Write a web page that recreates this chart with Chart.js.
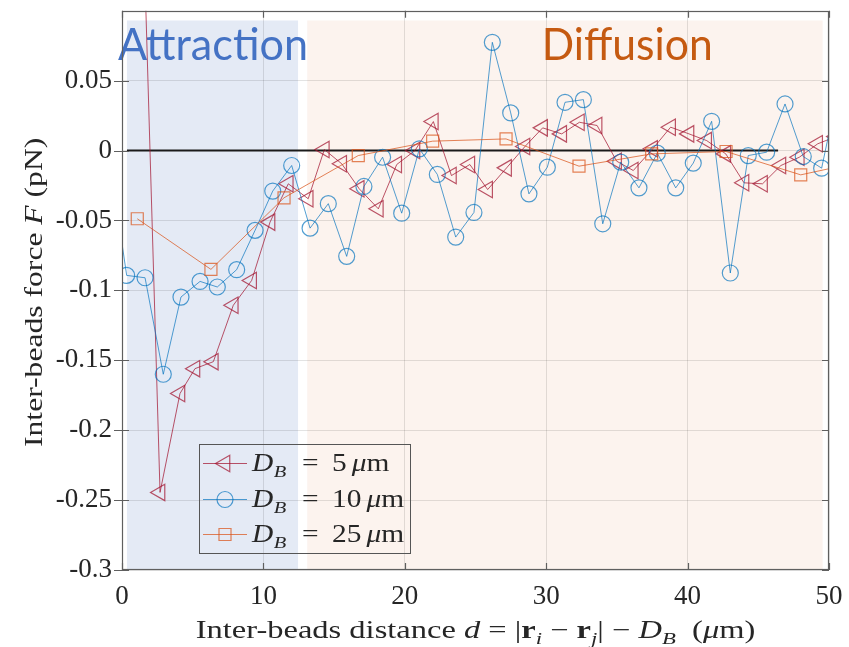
<!DOCTYPE html>
<html><head><meta charset="utf-8">
<script src="https://cdn.jsdelivr.net/npm/chart.js@4.4.1/dist/chart.umd.min.js"></script>
<style>html,body{margin:0;padding:0;background:#fff;}#wrap{width:849px;height:647px;}</style>
</head><body><div id="wrap"><canvas id="c" width="849" height="647"></canvas></div>
<script>
// ---------------- data ----------------
const seriesNames = ['5', '10', '25'];   // D_B values (µm)
const db5X = [1.4, 2.69, 4.10, 5.16, 6.46, 7.87, 9.17, 10.47, 11.76, 13.17, 14.31, 15.54, 16.78, 18.13, 19.43, 20.72, 22.02, 23.3, 24.6, 25.86, 27.2, 28.5, 29.75, 31.1, 32.35, 33.6, 34.98, 36.16, 37.53, 38.8, 40.1, 41.35, 42.7, 43.99, 45.3, 46.6, 47.9, 49.2, 50.5];
const db5Y = [0.2, -0.2445, -0.1738, -0.156, -0.151, -0.1107, -0.0929, -0.0512, -0.0238, -0.0345, 0.0007, -0.0095, -0.0274, -0.0417, -0.01, 0.0, 0.0207, -0.0179, -0.01, -0.0279, -0.0124, 0.0029, 0.0162, 0.0119, 0.0202, 0.0179, -0.0076, -0.0143, 0.0012, 0.0167, 0.0119, 0.0071, -0.0024, -0.0231, -0.0238, -0.0107, -0.0048, 0.0048, 0.01];
const db10X = [-0.96, 0.33, 1.63, 2.92, 4.17, 5.52, 6.74, 8.11, 9.41, 10.66, 12.0, 13.3, 14.59, 15.89, 17.11, 18.43, 19.78, 21.03, 22.3, 23.6, 24.89, 26.19, 27.49, 28.78, 30.08, 31.33, 32.63, 34.0, 35.27, 36.56, 37.86, 39.16, 40.4, 41.7, 43.02, 44.29, 45.59, 46.89, 48.18, 49.48, 50.78];
const db10Y = [0.0, -0.0893, -0.091, -0.16, -0.1048, -0.0936, -0.0976, -0.0852, -0.0571, -0.029, -0.0107, -0.0555, -0.038, -0.0757, -0.0257, -0.0048, -0.0448, 0.0012, -0.0171, -0.0619, -0.0443, 0.0774, 0.0269, -0.031, -0.0119, 0.0345, 0.0364, -0.0524, -0.0083, -0.0267, -0.0019, -0.0267, -0.009, 0.0209, -0.0876, -0.0036, -0.0012, 0.0333, -0.0043, -0.0126, 0.05];
const db25X = [1.08, 6.29, 11.46, 16.71, 21.97, 27.16, 32.32, 37.46, 42.72, 48.0, 53.2];
const db25Y = [-0.0488, -0.085, -0.0338, -0.0036, 0.0067, 0.0083, -0.0112, -0.0024, -0.0007, -0.0174, -0.006];
const zeroLineX = [0.35, 46.4];
const zeroLineY = [0, 0];
const xTicks = [0, 10, 20, 30, 40, 50];
const xTickLabels = ['0', '10', '20', '30', '40', '50'];
const yTicks = [-0.3, -0.25, -0.2, -0.15, -0.1, -0.05, 0, 0.05];
const yTickLabels = ['-0.3', '-0.25', '-0.2', '-0.15', '-0.1', '-0.05', '0', '0.05'];
const regionNames = ['Attraction', 'Diffusion'];
const regionFrom = [0.35, 13.1];
const regionTo = [12.45, 49.55];
const regionTop = 0.093;

// ---------------- styles ----------------
const C5 = 'rgba(162,20,47,0.72)';
const C10 = 'rgba(0,114,189,0.68)';
const C25 = 'rgba(217,83,25,0.72)';
const TEXT = '#262626';
const AXIS = '#5f5f5f';
const SERIF = '"Liberation Serif", "Times New Roman", serif';
const regionFill = ['#e4eaf5', '#fcf3ee'];
const regionText = ['#4472c4', '#c55a11'];

const pts = (xs, ys) => xs.map((x, i) => ({x: x, y: ys[i]}));

function segFont(st, size) {
  const it = (st === 'i' || st === 's');
  const bd = (st === 'b');
  const sz = st === 's' ? size * 0.7 : size;
  return (it ? 'italic ' : '') + (bd ? 'bold ' : '') + sz.toFixed(1) + 'px ' + SERIF;
}
function drawRich(ctx, segs, x, y, size, align, sx) {
  ctx.save();
  ctx.translate(x, y);
  ctx.scale(sx, 1);
  ctx.textBaseline = 'alphabetic';
  ctx.textAlign = 'left';
  let w = 0;
  for (const [t, st] of segs) { ctx.font = segFont(st, size); w += ctx.measureText(t).width; }
  let cx = align === 'center' ? -w / 2 : 0;
  ctx.fillStyle = TEXT;
  for (const [t, st] of segs) {
    ctx.font = segFont(st, size);
    ctx.fillText(t, cx, st === 's' ? size * 0.24 : 0);
    cx += ctx.measureText(t).width;
  }
  ctx.restore();
}
function drawPiece(ctx, t, st, x, y, size, sx) {
  ctx.save();
  ctx.translate(x, y);
  ctx.scale(sx, 1);
  ctx.font = segFont(st, size);
  ctx.fillStyle = TEXT;
  ctx.textBaseline = 'alphabetic';
  ctx.textAlign = 'left';
  ctx.fillText(t, 0, st === 's' ? size * 0.24 : 0);
  const w = ctx.measureText(t).width * sx;
  ctx.restore();
  return x + w;
}
function drawMarker(ctx, kind, x, y, r, color) {
  ctx.save();
  ctx.strokeStyle = color; ctx.lineWidth = 1.2;
  ctx.beginPath();
  if (kind === 'tri') {
    for (let k = 0; k < 3; k++) {
      const a = Math.PI + k * 2 * Math.PI / 3;
      const px = x + Math.cos(a) * r, py = y + Math.sin(a) * r;
      if (k === 0) ctx.moveTo(px, py); else ctx.lineTo(px, py);
    }
    ctx.closePath();
  } else if (kind === 'circ') {
    ctx.arc(x, y, r, 0, Math.PI * 2);
  } else {
    const s = r / Math.SQRT2;
    ctx.rect(x - s, y - s, 2 * s, 2 * s);
  }
  ctx.stroke();
  ctx.restore();
}

const decor = {
  id: 'decor',
  beforeDraw(chart) {
    const {ctx, scales: {x, y}} = chart;
    ctx.save();
    for (let i = 0; i < regionNames.length; i++) {
      const x0 = x.getPixelForValue(regionFrom[i]), x1 = x.getPixelForValue(regionTo[i]);
      const y0 = y.getPixelForValue(regionTop), y1 = y.getPixelForValue(-0.3);
      ctx.fillStyle = regionFill[i];
      ctx.fillRect(x0, y0, x1 - x0, y1 - y0);
    }
    ctx.restore();
  },
  beforeDatasetsDraw(chart) {
    const {ctx, scales: {x, y}} = chart;
    const lx = [-0.28, 29.68], tw = [190, 171];
    ctx.save();
    for (let i = 0; i < regionNames.length; i++) {
      ctx.font = '45px Lato, "Open Sans", sans-serif';
      const m = ctx.measureText(regionNames[i]).width;
      ctx.save();
      ctx.translate(x.getPixelForValue(lx[i]), y.getPixelForValue(0.0645));
      ctx.scale(tw[i] / m, 1);
      ctx.fillStyle = regionText[i];
      ctx.textBaseline = 'alphabetic';
      ctx.fillText(regionNames[i], 0, 0);
      ctx.restore();
    }
    ctx.restore();
  },
  afterDraw(chart) {
    const {ctx, chartArea: a, scales: {x, y}} = chart;
    ctx.save();
    // axes box
    ctx.strokeStyle = AXIS; ctx.lineWidth = 1.2;
    ctx.strokeRect(Math.round(a.left) + 0.5, Math.round(a.top) + 0.5, Math.round(a.right - a.left) - 1, Math.round(a.bottom - a.top) - 1);
    ctx.beginPath();
    for (const v of xTicks) {
      const px = Math.round(x.getPixelForValue(v)) + 0.5;
      ctx.moveTo(px, a.bottom); ctx.lineTo(px, a.bottom - 7);
      ctx.moveTo(px, a.top); ctx.lineTo(px, a.top + 7);
    }
    for (const v of yTicks) {
      const py = Math.round(y.getPixelForValue(v)) + 0.5;
      ctx.moveTo(a.left - 8, py); ctx.lineTo(a.left + 7, py);
      ctx.moveTo(a.right, py); ctx.lineTo(a.right - 7, py);
    }
    ctx.stroke();

    // axis titles
    drawRich(ctx, [['Inter-beads distance ', 'n'], ['d', 'i'], [' = |', 'n'], ['r', 'b'], ['i', 's'], [' \u2212 ', 'n'], ['r', 'b'], ['j', 's'], ['| \u2212 ', 'n'], ['D', 'i'], ['B', 's'], ['  (', 'n'], ['\u03bc', 'i'], ['m)', 'n']],
      (a.left + a.right) / 2, 638, 25, 'center', 1.30);
    ctx.save();
    ctx.translate(42, (a.top + a.bottom) / 2 + 2);
    ctx.rotate(-Math.PI / 2);
    drawRich(ctx, [['Inter-beads force ', 'n'], ['F', 'i'], [' (pN)', 'n']], 0, 0, 25.5, 'center', 1.24);
    ctx.restore();

    // legend
    const lgX = 199.5, lgY = 444.5, lgW = 211, lgH = 109;
    ctx.strokeStyle = '#555'; ctx.lineWidth = 1;
    ctx.strokeRect(lgX, lgY, lgW, lgH);
    const rows = [463, 499, 534];
    const cols = [C5, C10, C25];
    const kinds = ['tri', 'circ', 'rect'];
    const rads = [9.5, 8, 8.5];
    const LS = 24.5, LX = 1.2;
    for (let i = 0; i < 3; i++) {
      ctx.strokeStyle = cols[i]; ctx.lineWidth = 1;
      ctx.beginPath(); ctx.moveTo(203, rows[i] + 0.5); ctx.lineTo(247, rows[i] + 0.5); ctx.stroke();
      drawMarker(ctx, kinds[i], 225, rows[i] + 0.5, rads[i], cols[i]);
      const by = rows[i] + 8;
      let ex = drawPiece(ctx, 'D', 'i', 252, by, LS, LX);
      drawPiece(ctx, 'B', 's', ex + 0.5, by, LS, LX);
      drawPiece(ctx, '=', 'n', 302, by, LS, LX);
      ex = drawPiece(ctx, seriesNames[i], 'n', 332, by, LS, LX);
      ex = drawPiece(ctx, '\u03bc', 'i', ex + 5, by, LS, LX);
      drawPiece(ctx, 'm', 'n', ex, by, LS, LX);
    }
    ctx.restore();
  }
};

new Chart(document.getElementById('c'), {
  type: 'line',
  data: {
    datasets: [
      {label: 'D_B = 25 µm', data: pts(db25X, db25Y), borderColor: C25, borderWidth: 1, pointStyle: 'rect', pointRadius: 8.5, pointBorderWidth: 1.2, pointBorderColor: C25, pointBackgroundColor: 'rgba(0,0,0,0)', order: 1},
      {label: 'D_B = 10 µm', data: pts(db10X, db10Y), borderColor: C10, borderWidth: 1, pointStyle: 'circle', pointRadius: 8, pointBorderWidth: 1.2, pointBorderColor: C10, pointBackgroundColor: 'rgba(0,0,0,0)', order: 2},
      {label: 'D_B = 5 µm', data: pts(db5X, db5Y), borderColor: C5, borderWidth: 1, pointStyle: 'triangle', pointRotation: -90, pointRadius: 9.5, pointBorderWidth: 1.2, pointBorderColor: C5, pointBackgroundColor: 'rgba(0,0,0,0)', order: 3},
      {label: 'zero', data: pts(zeroLineX, zeroLineY), borderColor: '#1a1a1a', borderWidth: 2, pointRadius: 0, order: 4}
    ]
  },
  options: {
    responsive: false,
    animation: false,
    layout: {padding: {left: 0, top: 10, right: 20, bottom: 0}},
    plugins: {legend: {display: false}, tooltip: {enabled: false}},
    elements: {line: {tension: 0}},
    scales: {
      x: {
        type: 'linear', min: 0, max: 50,
        afterBuildTicks: s => { s.ticks = xTicks.map(v => ({value: v})); },
        afterFit: s => { s.height = 77; s.paddingLeft = 0; s.paddingRight = 0; },
        grid: {color: 'rgba(0,0,0,0.11)', lineWidth: 1, drawTicks: false},
        border: {display: false},
        ticks: {color: TEXT, font: {family: SERIF, size: 27}, padding: 11, maxRotation: 0,
                callback: (v, i) => xTickLabels[i]}
      },
      y: {
        type: 'linear', min: -0.3, max: 0.1,
        afterBuildTicks: s => { s.ticks = yTicks.map(v => ({value: v})); },
        afterFit: s => { s.width = 122; s.paddingTop = 0; s.paddingBottom = 0; },
        grid: {color: 'rgba(0,0,0,0.11)', lineWidth: 1, drawTicks: false},
        border: {display: false},
        ticks: {color: TEXT, font: {family: SERIF, size: 27}, padding: 10,
                callback: (v, i) => yTickLabels[i]}
      }
    }
  },
  plugins: [decor]
});
</script>
</body></html>
